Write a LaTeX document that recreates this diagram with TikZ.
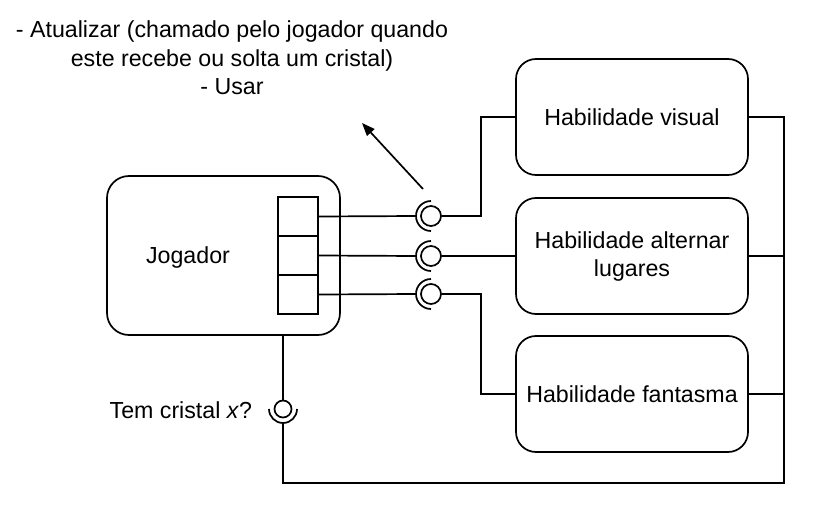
\documentclass[tikz,border=0pt]{standalone}
\usepackage{fontspec}
\setmainfont{Liberation Sans}
\usetikzlibrary{arrows.meta}
\begin{document}
\begin{tikzpicture}[x=1pt,y=-1pt,line width=1.7pt,
  box/.style={draw,rounded corners=20pt,minimum width=232pt,minimum height=116pt,align=center,inner sep=0pt,font=\fontsize{23.2}{28}\selectfont},
  portbox/.style={draw,minimum width=40pt,minimum height=39pt,inner sep=0pt},
  ball/.style={draw,circle,minimum size=20pt,inner sep=0pt},
  smallball/.style={draw,circle,minimum size=17pt,inner sep=0pt},
  lbl/.style={font=\fontsize{23.2}{28.5}\selectfont,align=center,inner sep=0pt}]
\useasboundingbox (0,0) rectangle (819,516);
% boxes
\node[box] (hv) at (632,117) {Habilidade visual};
\node[box] (ha) at (632,256) {Habilidade alternar\\lugares};
\node[box] (hf) at (632,394) {Habilidade fantasma};
\node[draw,rounded corners=22pt,minimum width=233pt,minimum height=159pt,inner sep=0pt] (jog) at (223.5,255.5) {};
\node[lbl] (jt) at (188,258) {Jogador};
% ports
\node[portbox] (p1) at (298,216.5) {};
\node[portbox] (p2) at (298,255.5) {};
\node[portbox] (p3) at (298,294.5) {};
% balls
\node[ball] (b1) at (431,216) {};
\node[ball] (b2) at (431,256) {};
\node[ball] (b3) at (431,294) {};
\coordinate (s1) at (416,216);
\coordinate (s2) at (416,256);
\coordinate (s3) at (416,294);
\draw (b1.center) ++(0,-15) arc[start angle=270,end angle=90,radius=15];
\draw (b2.center) ++(0,-15) arc[start angle=270,end angle=90,radius=15];
\draw (b3.center) ++(0,-15) arc[start angle=270,end angle=90,radius=15];
\draw (p1.east) -- (s1);
\draw (p2.east) -- (s2);
\draw (p3.east) -- (s3);
\draw (b1.east) -- ++(39,0) |- (hv.west);
\draw (b2.east) -- (ha.west);
\draw (b3.east) -- ++(39,0) |- (hf.west);
% bottom interface
\node[smallball] (bb) at (283,409) {};
\coordinate (bs) at (283,423);
\draw (bb.center) ++(-14,0) arc[start angle=180,end angle=0,radius=14];
\node[lbl,anchor=east] (tc) at (253,410) {Tem cristal \textit{x}?};
\coordinate (rb) at (784,483);
\draw (jog.south -| bb) -- (bb.north);
\draw (bs) |- (rb) |- (hv.east);
\draw (ha.east) -- (ha.east -| rb);
\draw (hf.east) -- (hf.east -| rb);
% top text and arrow
\node[lbl] (tt) at (232,58) {- Atualizar (chamado pelo jogador quando\\este recebe ou solta um cristal)\\- Usar};
\coordinate (a1) at (423,189);
\coordinate (a2) at (362,123);
\draw[-{Triangle[length=13pt,width=10pt]}] (a1) -- (a2);
\end{tikzpicture}
\end{document}
